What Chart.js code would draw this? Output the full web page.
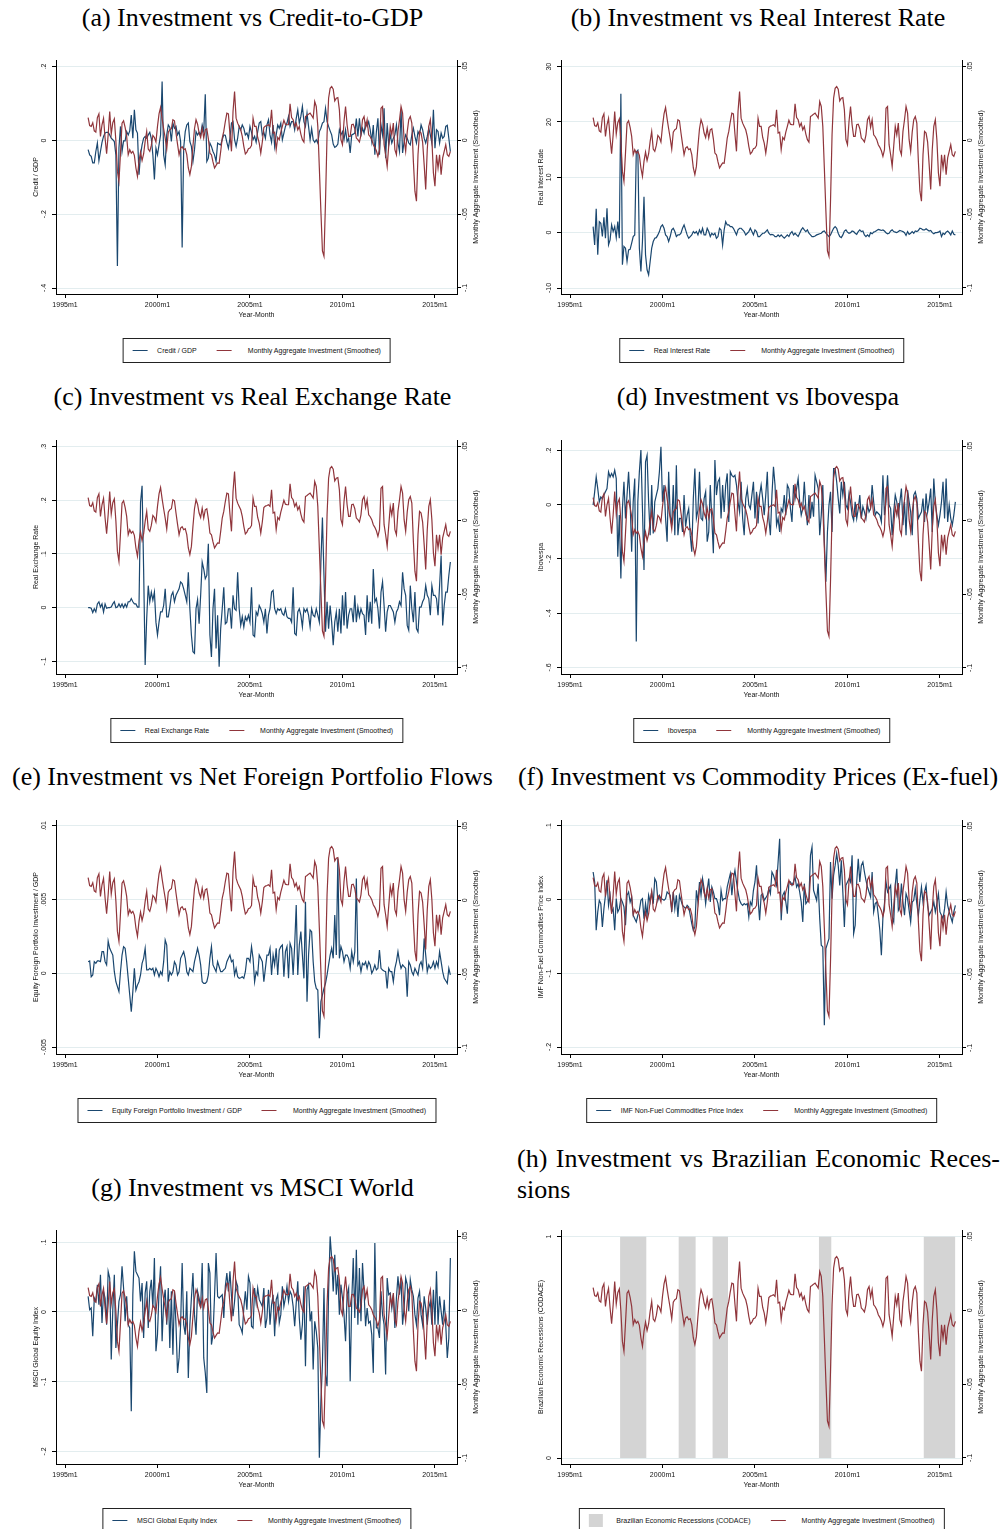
<!DOCTYPE html>
<html>
<head>
<meta charset="utf-8">
<script src="https://cdn.jsdelivr.net/npm/chart.js@4"></script>
<style>
  body { margin: 0; width: 1002px; height: 1529px; position: relative; background: #fff; overflow: hidden; }
  .ttl { position: absolute; font: 26px "Liberation Serif", "Times New Roman", serif; line-height: 28px; color: #000; text-align: center; white-space: nowrap; }
  canvas { position: absolute; }
  .lg { position: absolute; transform: translateX(-50%); border: 1px solid #222; height: 25px; box-sizing: border-box;
        display: flex; align-items: center; padding: 0 9px; font: 7px "Liberation Sans", Arial, sans-serif; color: #111; white-space: nowrap; }
  .key { display: inline-block; width: 15px; border-top: 1px solid; margin-right: 10px; }
  .key.inv { margin-right: 16px; }
  .sw { display: inline-block; width: 14px; height: 13px; background: #d4d4d4; margin-right: 14px; }
  .gap { display: inline-block; width: 20px; }
</style>
</head>
<body>
<script>
// monthly series, 1996m4 .. 2015m11 (months counted from 1995m1 = 0)
const firstMonth = 15;

const investment = [
  .0155, .010, .0095, .012, .0065, .0056, .0155, .018, .0027,
  .0106, .015, .0016, -.009, .0038, .0196, .0043, .012, .0146, -.0002, -.021, -.0277,
  -.0086, .0117, .0133, .0088, .0027, -.0097, -.0063, -.0086, -.0074, -.0101, -.0187, -.0243,
  -.0142, -.0079, -.0137, -.0092, -.0007, .0061, -.0059, -.0074, -.0034, .0034, .002, -.0011,
  .0095, .018, .0223, .0146, .0079, .0016, -.0059, .0056, .0072, .0079, .014, .0133,
  .005, -.0025, -.0097, -.0052, -.0043, -.0063, -.0056, -.0097, -.0187, -.0232, -.0176, -.004,
  .0079, .014, .011, .005, .002, .0083, .0016, .0072, .0079, .0011, -.0086, -.0097,
  -.0146, -.0187, -.0169, -.0153, -.0155, -.0074, .0016, .0061, .0128, .0185, .018, .0043,
  -.0074, .0196, .0331, .0151, .0117, .0095, .0072, .0027, -.004, -.0092, -.0079, -.0056,
  -.0052, -.0034, .0151, .0095, .0095, .002, -.0018, -.0086, -.0011, .0088, .0097, .0101,
  .0106, .0095, .0207, .005, .0056, -.0063, .002, .0005, .0056, .0095, .0137, .011,
  .0106, .0106, .0248, .0155, .014, .0095, .0117, .0072, .0095, .0043, .0005, -.0011,
  .0162, .0169, .0178, .0185, .0169, .0151, .0263, .023, .0095, -.0187, -.0479, -.0749,
  -.0785, -.0412, .0038, .0286, .0353, .0365, .0347, .0268, .0286, .029, .0207, .0005,
  -.0029, .0128, .023, .0106, .0027, .0027, .0106, .011, .0079, .0016, .0005, -.0011,
  .0038, .014, .0162, .0088, .014, .0038, .0025, .0005, -.0029, -.0047, -.007, -.0108,
  -.0063, .0218, .023, -.0029, -.0097, -.0176, -.004, .0095, .0038, .0117, -.0063, -.0097,
  .0061, .014, .023, .0185, .0005, -.0074, .0056, .014, .0162, .0117, -.0142, -.0344,
  -.0412, -.0097, .0061, .005, -.0011, -.0164, -.0333, -.0063, .0095, .014, .0005, -.022,
  -.031, -.0097, -.0187, -.0097, -.0232, -.0119, -.0074, -.0029, -.0097, -.0108, -.0074
];

const creditGdp = [
  -.025, -.039, -.043, -.061, -.061, -.03, -.007, -.055, -.03,
  -.005, .011, .02, .022, .022, .015, .006, .002, -.003, -.039, -.34, -.02,
  .038, -.03, -.001, -.001, .024, .015, .026, .069, .006, .083, .029, .02,
  -.093, -.039, -.012, .006, .011, .006, .015, .022, .005, -.039, -.106, -.021,
  -.039, -.012, .015, .16, -.039, -.066, .015, .042, .035, -.003, .047, .033,
  .038, .015, .024, -.003, -.29, -.02, .024, .042, .047, -.003, -.016, -.057,
  -.025, .024, .015, .022, .015, .042, .024, .125, -.057, -.048, -.007, -.016,
  -.03, -.039, -.057, -.007, -.01, -.012, .002, .015, .014, -.005, -.021, .006,
  .047, .051, .002, -.016, .006, .038, .029, .042, .033, .015, .02, .006,
  .038, .022, .002, .011, -.005, .024, .047, .051, .015, .022, .006, .042,
  .056, .015, -.005, .042, -.016, .015, .042, .033, .047, .002, .02, .038,
  .047, .065, .038, .051, .051, .029, .06, .083, .047, .065, .092, .051,
  .038, .074, .038, .002, .032, .002, -.005, .002, -.007, .024, .033, .047,
  .051, .087, .051, .038, .026, .015, -.01, -.019, -.016, -.01, .029, .015,
  .024, .002, .029, -.003, .006, -.034, .015, .017, .02, .059, .011, .06,
  .015, .033, .02, .047, .038, .051, .029, -.003, .042, -.039, .024, .06,
  -.039, .042, .015, .087, -.048, .047, -.012, .015, -.007, .006, .015, .042,
  -.007, -.03, .083, -.034, -.003, .015, .006, -.007, -.012, .015, .033, .011,
  -.007, .024, .015, .042, .029, .006, -.007, .011, .033, .015, -.007, .083,
  -.021, .029, .024, -.007, .02, .006, .011, .038, .041, .006, -.03
];

const realInterest = [
  1.1, -2.2, 4.3, -4.0, 2.0, 1.7, -0.7, 2.8, -1.0,
  4.4, -2.2, -1.3, 1.4, 0.2, 1.1, -0.9, 2.0, -1.0, 25.1, -5.8, -2.5,
  -2.8, -5.2, -3.1, -3.0, -1.9, -0.7, -0.4, 14.6, 14.9, -2.8, -7.0, -1.6,
  6.5, -4.0, -6.7, -7.6, -5.2, -2.8, -1.6, -1.0, -0.9, -0.4, 0.2, 1.1,
  1.4, 0.8, -0.4, -0.7, -1.6, -0.7, 0.5, 0.8, 0.2, -0.7, -0.4, -0.4,
  -0.1, 0.8, 1.4, 0.5, -0.4, -1.0, -0.7, -0.4, 0.2, -0.1, 0.2, -0.4,
  0.5, -0.1, 0.8, -0.4, -0.4, 0.8, 0.2, -0.7, -0.1, -0.4, -0.1, -1.0,
  -0.7, 0.8, 0.5, -2.2, 0.5, 2.0, 1.4, 1.4, 1.1, 1.1, 0.8, 0.2,
  -0.4, 0.5, 0.8, 0.8, 0.5, 0.2, -0.4, -0.1, 0.2, 0.8, 0.2, -0.4,
  0.5, 0.2, -0.7, -0.7, -0.4, -0.1, -0.1, 0.2, 0.5, -0.1, -0.4, -0.3,
  -0.4, -0.7, -0.7, -0.4, -0.7, -0.4, -0.7, -1.0, -0.7, -0.4, -0.7, -0.1,
  0.2, -0.4, -0.1, -0.4, -0.7, -0.1, 0.5, 0.9, 0.5, 0.2, 0.5, -0.1,
  -0.4, -0.7, -0.7, -0.6, -0.4, -0.3, -0.2, -0.1, 0.2, 0.3, -0.1, -0.4,
  -0.7, -0.4, 0.2, 0.8, 1.1, 0.8, -0.1, -0.7, -0.9, -0.4, 0.3, 0.5,
  0.1, -0.1, 0.0, 0.3, 0.2, -0.1, -0.3, 0.2, 0.5, 0.2, 0.3, -0.4,
  -0.7, -0.4, -0.7, 0.0, -0.2, 0.1, 0.2, 0.4, 0.6, 0.5, 0.4, 0.5,
  0.3, 0.0, -0.2, -0.1, 0.3, 0.5, 0.2, 0.1, 0.0, 0.2, 0.4, 0.3,
  0.2, 0.0, -0.5, 0.2, -0.3, -0.1, 0.2, -0.1, 0.3, 0.2, 0.4, 0.8,
  0.7, 0.5, 0.5, 0.7, 0.5, 0.3, 0.4, 0.0, -0.2, 0.0, 0.0, 0.1,
  0.3, -0.7, -0.1, -0.3, 0.1, 0.3, 0.0, -0.4, 0.3, -0.3, -0.4
];

const realExchange = [
  0, 0, -.001, -.009, -.002, -.008, .007, .011, .001,
  .007, -.008, .007, -.001, 0, 0, .001, .007, .011, 0, .001, .007,
  .001, .007, 0, .007, .001, .011, .011, .017, .011, .007, .007, .001,
  .001, .196, .227, .072, -.107, -.02, .041, .011, .029, .014, .029, -.027,
  -.051, -.027, -.008, -.008, .004, .035, -.017, -.017, .001, .023, .029, .011,
  .023, .029, .035, .048, .045, .035, .023, .011, .066, -.002, -.051, -.082,
  -.085, -.002, .015, -.03, .023, .085, .072, .054, .06, .119, -.051, -.092,
  -.002, .035, -.076, -.014, -.11, -.039, -.002, .038, -.03, -.027, -.002, -.002,
  -.039, .023, -.002, -.005, .066, -.002, -.033, -.017, -.036, -.017, -.024, -.014,
  -.027, .038, -.051, -.054, -.008, -.014, .004, -.002, -.011, -.027, -.002, -.048,
  -.014, -.002, .029, .032, -.002, -.011, -.002, -.005, -.002, -.011, -.014, -.002,
  -.017, -.02, -.02, -.027, .038, -.048, -.051, -.008, -.002, -.014, -.036, -.002,
  -.008, -.002, -.014, -.036, -.002, -.014, -.017, -.002, -.014, -.027, .085, .168,
  .06, -.045, .011, -.039, .004, -.027, -.07, -.027, -.008, -.045, -.002, -.048,
  .023, -.033, .029, -.039, -.014, -.002, -.002, -.027, .023, -.027, .001, -.017,
  -.002, -.011, -.014, -.051, .023, -.027, .011, -.03, .072, .011, .017, -.002,
  -.039, .029, .048, .004, -.045, -.008, .004, .004, -.002, -.008, -.027, -.008,
  -.002, .011, .004, .066, .035, .023, -.033, -.042, .041, -.002, -.027, .029,
  -.039, -.045, .001, .001, .011, .017, .041, .023, .017, -.014, .041, .023,
  .023, .017, -.014, .041, .097, -.033, .004, .029, .029, .060, .085
];

const ibovespa = [
  -.001, .048, .103, .06, .011, .029, .023, .036, .048,
  .06, .122, .103, .116, .103, .128, .097, -.192, -.038, -.272, -.014, .085,
  -.05, .036, .122, .011, -.173, .011, .097, -.505, .011, .122, .202, -.014,
  -.241, .159, .183, .011, -.112, .073, -.106, .011, .036, .06, .122, .214,
  .011, .073, -.05, -.136, .122, -.038, -.075, .073, -.112, .146, -.112, -.05,
  -.05, -.1, .036, -.081, -.038, -.014, -.112, -.173, .023, .134, -.05, -.02,
  .122, -.05, -.057, .023, .048, -.136, -.1, .073, -.05, -.179, .165, .036,
  .085, .097, -.05, .073, -.026, .073, .116, -.063, .122, .109, .103, .109,
  .073, .011, -.026, .085, -.05, -.112, .023, .06, -.001, -.014, .036, .085,
  -.05, .048, -.069, .036, .073, .023, -.038, .036, .122, -.05, -.112, .036,
  .14, .073, -.075, -.05, -.1, -.014, -.026, .036, -.038, .073, .06, -.014,
  -.063, .073, .023, .06, .097, .011, -.038, -.014, .085, -.014, -.075, .036,
  -.05, .011, -.044, .109, .085, .06, -.112, -.038, .073, -.136, -.284, -.1,
  -.001, .048, -.1, .134, .134, .085, .023, -.032, .085, .036, .085, -.001,
  -.014, .042, .011, -.038, -.057, .011, -.05, -.014, .036, -.05, -.007, -.026,
  -.05, -.001, -.026, -.014, .073, .011, -.038, -.026, -.032, -.038, -.063, .109,
  -.038, .011, .109, -.001, -.014, -.112, -.026, .036, .011, -.038, .011, .06,
  -.075, .011, -.112, .054, .011, -.026, -.112, .036, .048, .023, -.05, -.038,
  -.026, .023, -.063, .042, -.026, .011, .06, -.1, .097, .005, -.038, -.075,
  -.038, .011, .085, -.05, .097, -.063, -.001, -.05, -.075, -.038, .011
];

const equityFlows = [
  .00079, .00084, -.00023, -.00011, .00079, .00068, .00084, .00084, .00079,
  .00147, .00147, .00079, .00057, .00219, .0017, .00147, .00124, .00011, -.00057, -.0009, -.00124,
  .00011, .00124, .00181, .0017, .00079, -.00034, -.00147, -.0026, -.00124, .00034, -.00113, -.0008,
  -.00057, -.00011, .00068, .00102, .0017, .00023, .00023, .00034, .00023, .00034, -.00011, .00034,
  .00011, -.00023, .00011, -.00011, .00079, .00226, .00192, -.00057, .00011, -.00011, .00011, .00079,
  .00057, -.00011, .00011, .00102, .00124, .00147, .00102, .00011, -.00011, .00034, .00023, .00011,
  .00079, .00124, .0017, .00124, .00057, -.00057, -.00068, -.00068, -.00057, -.00011, .00102, .00181,
  .00057, .00034, .00011, .00079, .00045, .00011, .00011, .00023, .00034, .00079, .00102, .00124,
  .00079, .0009, -.00011, .00034, -.00023, -.00034, -.0003, -.00023, -.00034, .00011, .00102, .00102,
  .00079, .00181, .00102, -.00057, .00011, -.00011, .00124, .00102, .00079, -.00057, .00034, .00124,
  .00124, .0017, -.00011, .00124, .00057, .0017, -.00011, .00158, .00181, .00192, -.00023, .00147,
  .00181, -.00034, .00203, .0017, -.00011, .00192, .00463, -.00011, .00192, .00283, .00124, -.00034,
  .00486, -.00192, .00124, .00294, .00283, .00079, -.00057, -.00102, -.00113, -.0044, -.00192, -.00147,
  -.00102, -.00068, -.00011, .00057, .00124, .0017, .00102, .00396, .00124, .0078, .00102, .00181,
  .00147, .00079, .00124, .00124, .00102, .00034, .00147, .00079, .00147, .00644, .00057, .00079,
  .00011, .00068, .00057, .00079, .00034, .00079, .00057, 0, .00023, .00057, .00023, .00034,
  .00158, .00034, .00023, .00016, .00011, -.00102, .00034, .00011, .00011, -.00057, .00034, .00079,
  .00147, .00079, .00034, .00057, .00045, .00034, -.00158, .00079, .00057, .00011, -.00011, .00034,
  .00011, -.00011, .00057, .00079, .00034, .00237, .00124, .00011, .00057, .00034, .00045, .00079,
  .00034, .00079, .00045, .00147, .00079, .00011, -.00034, -.0005, -.00068, .00034, -.00011
];

const commodities = [
  .0375, .024, -.0416, -.0167, -.0009, -.0054, -.0371, -.0122, .0059,
  .0262, -.0077, .0059, -.0167, -.0122, -.0416, .0014, -.0167, -.0122, .0014, -.0032, -.0099,
  -.0348, .0059, .0104, -.0032, .0036, -.0212, -.0258, -.0303, -.0212, -.0145, -.0009, .0014,
  -.0258, -.0054, -.0212, .0059, -.0032, .0104, -.0054, .0285, .024, -.0009, .0059, .0014,
  .0005, -.0009, .0014, .0104, .0081, .0059, -.0167, .0104, -.0122, .0059, -.0235, .0059,
  -.0009, -.0077, -.0099, -.0122, -.0077, -.0099, -.0212, -.0325, -.0416, -.0371, .0127, -.0032,
  .024, .0059, .0285, .0149, -.0054, .0127, .0285, -.0032, .0172, .0104, .0014, .0014,
  -.0054, -.0212, .0127, -.0009, .0014, .0014, .0172, .0262, .0352, .0059, .0285, .0398,
  .024, .0104, -.0009, -.0054, -.0077, -.0054, -.0068, -.0054, -.0235, -.0032, -.0077, .0127,
  .024, .0465, .0014, -.028, .0059, .0081, -.0009, .0023, .0059, .0149, .0081, .0375,
  .033, .0262, .0194, .0511, .0827, -.028, .0059, .0104, -.0032, -.019, .024, .024,
  .0194, .024, .0307, .0172, .0217, .0104, -.0032, -.0303, .0217, -.0054, -.0023, .0014,
  .0601, .0714, .0127, .0059, -.0009, .0217, -.0258, -.0619, -.0642, -.1704, -.0664, -.0597,
  -.0529, .0511, .0014, .033, .0465, .0624, .0465, .0194, .0533, .0104, -.0371, .0194,
  .024, .0285, .024, .0601, -.0461, -.0348, .024, .0556, .024, .0465, .0511, .0375,
  .0262, .0172, .0104, .0036, .0375, -.0167, -.0054, -.0032, -.0212, -.0416, -.0755, -.0235,
  -.0054, .024, .0104, .0149, .0194, -.0235, -.0303, .0194, .042, -.0145, -.0099, .0217,
  -.0032, -.0212, .0081, .0014, -.0145, -.0303, -.0032, -.0009, .0149, -.0054, -.0212, -.0009,
  .0172, -.0032, .0104, .0194, -.0077, -.0212, -.0167, -.0122, -.0032, -.0167, -.0054, .0081,
  -.0167, -.0212, -.0258, -.0122, .0104, -.0077, -.0167, -.0235, -.0303, -.0167, -.0077
];

const msciWorld = [
  .0225, .0033, .0057, -.0349, .0201, .0153, .0392, .0105, .0535,
  -.0158, .0296, .0201, -.0182, .0583, .0487, -.0683, .0033, .0535, -.0516, -.0182, .0153,
  .0248, .0655, .0344, -.0134, .0225, -.0182, -.0229, -.1424, .0248, .087, .0583, .0535,
  .0487, .0153, .0416, -.0373, .0272, .044, -.0229, .0296, .0463, .0057, .0774, -.0564,
  -.0325, .0296, .0655, -.042, .0153, .032, -.0182, .0344, -.0516, .0296, -.0612, .0296,
  -.0182, -.0874, -.0659, -.0182, .0702, -.0182, -.0325, .0296, -.0946, -.0182, .0201, .0559,
  -.0038, -.0325, .0296, .0201, .0057, .0702, -.0659, -.0874, -.1161, .0702, .0559, -.0468,
  -.0325, .0225, .0846, .0225, .0201, .0225, .0248, -.0086, .0368, .0559, .0296, .0583,
  .0225, -.0062, .0153, .044, .0368, -.0182, -.0229, -.0301, .0057, .0296, .0033, .0511,
  .0416, -.0205, -.0229, .0344, .0129, .0344, .0177, .0129, .0081, .0344, -.0229, -.0086,
  .032, -.0182, .0105, .0248, -.0349, .0177, .0248, -.0158, -.0038, .0368, .0081, .0201,
  .0368, .0153, .0296, .0248, .0081, -.0205, .0129, .044, -.0086, -.0397, -.0182, .0368,
  -.0779, .032, .0392, -.0134, .001, -.0827, -.0134, -.0277, -.0516, -.2093, -.128, -.0755,
  .0344, -.0898, -.1065, .0296, .1085, .0774, .0296, .0822, .0248, .0535, -.0038, .0392,
  .0201, -.0038, -.042, .0248, .0344, -.0994, .0153, .0774, -.0086, .0893, -.0182, .0631,
  -.0134, .0702, .0296, -.0205, .0057, -.0158, -.0134, -.0325, -.0874, .0989, -.0229, -.0229,
  -.0373, .0296, -.0038, -.0182, -.0898, .0487, .0248, .0272, .0057, .0248, -.0229, .0201,
  .0511, .0248, .0487, -.0182, .0057, .0487, .0392, .001, .0463, .032, .0225, -.0038,
  -.0182, .0201, .0296, -.0038, -.0182, .0225, .0057, -.0182, .0057, .0153, -.0182, .032,
  -.0182, .0583, -.0182, .0225, .001, -.0182, .0177, -.0182, -.0659, -.0373, .0774
];

// CODACE recession indicator (1 = recession month)
const recession = [
  0, 0, 0, 0, 0, 0, 0, 0, 0,
  0, 0, 0, 0, 0, 0, 0, 0, 0, 1, 1, 1,
  1, 1, 1, 1, 1, 1, 1, 1, 1, 1, 1, 1,
  1, 1, 0, 0, 0, 0, 0, 0, 0, 0, 0, 0,
  0, 0, 0, 0, 0, 0, 0, 0, 0, 0, 0, 1,
  1, 1, 1, 1, 1, 1, 1, 1, 1, 1, 0, 0,
  0, 0, 0, 0, 0, 0, 0, 0, 0, 1, 1, 1,
  1, 1, 1, 1, 1, 1, 1, 0, 0, 0, 0, 0,
  0, 0, 0, 0, 0, 0, 0, 0, 0, 0, 0, 0,
  0, 0, 0, 0, 0, 0, 0, 0, 0, 0, 0, 0,
  0, 0, 0, 0, 0, 0, 0, 0, 0, 0, 0, 0,
  0, 0, 0, 0, 0, 0, 0, 0, 0, 0, 0, 0,
  0, 0, 0, 0, 0, 0, 1, 1, 1, 1, 1, 1,
  1, 1, 0, 0, 0, 0, 0, 0, 0, 0, 0, 0,
  0, 0, 0, 0, 0, 0, 0, 0, 0, 0, 0, 0,
  0, 0, 0, 0, 0, 0, 0, 0, 0, 0, 0, 0,
  0, 0, 0, 0, 0, 0, 0, 0, 0, 0, 0, 0,
  0, 0, 0, 0, 0, 0, 0, 0, 0, 0, 0, 0,
  0, 0, 1, 1, 1, 1, 1, 1, 1, 1, 1, 1,
  1, 1, 1, 1, 1, 1, 1, 1, 1, 1, 1
];

const xTicks = [0, 60, 120, 180, 240];
const xTickLabels = ['1995m1', '2000m1', '2005m1', '2010m1', '2015m1'];
const invTicks = [.05, 0, -.05, -.1];
const invTickLabels = ['.05', '0', '-.05', '-.1'];
const creditTicks = [.2, 0, -.2, -.4];
const creditTickLabels = ['.2', '0', '-.2', '-.4'];
const rateTicks = [30, 20, 10, 0, -10];
const rateTickLabels = ['30', '20', '10', '0', '-10'];
const rerTicks = [.3, .2, .1, 0, -.1];
const rerTickLabels = ['.3', '.2', '.1', '0', '-.1'];
const iboTicks = [.2, 0, -.2, -.4, -.6];
const iboTickLabels = ['.2', '0', '-.2', '-.4', '-.6'];
const flowTicks = [.01, .005, 0, -.005];
const flowTickLabels = ['.01', '.005', '0', '-.005'];
const commTicks = [.1, 0, -.1, -.2];
const commTickLabels = ['.1', '0', '-.1', '-.2'];
const msciTicks = [.1, 0, -.1, -.2];
const msciTickLabels = ['.1', '0', '-.1', '-.2'];
const recTicks = [1, 0];
const recTickLabels = ['1', '0'];

const invName = 'Monthly Aggregate Investment (Smoothed)';
const blue = '#1a476f';
const red = '#90353b';
const shade = '#d4d4d4';

const panels = [
  { title: '(a) Investment vs Credit-to-GDP', name: 'Credit / GDP', series: creditGdp,
    ticks: creditTicks, labels: creditTickLabels, min: -.4162, max: .218, col: 0, row: 0 },
  { title: '(b) Investment vs Real Interest Rate', name: 'Real Interest Rate', series: realInterest,
    ticks: rateTicks, labels: rateTickLabels, min: -11.08, max: 31.2, col: 1, row: 0 },
  { title: '(c) Investment vs Real Exchange Rate', name: 'Real Exchange Rate', series: realExchange,
    ticks: rerTicks, labels: rerTickLabels, min: -.1236, max: .3124, col: 0, row: 1 },
  { title: '(d) Investment vs Ibovespa', name: 'Ibovespa', series: ibovespa,
    ticks: iboTicks, labels: iboTickLabels, min: -.6246, max: .2393, col: 1, row: 1 },
  { title: '(e) Investment vs Net Foreign Portfolio Flows', name: 'Equity Foreign Portfolio Investment / GDP', series: equityFlows,
    ticks: flowTicks, labels: flowTickLabels, min: -.005475, max: .010407, col: 0, row: 2 },
  { title: '(f) Investment vs Commodity Prices (Ex-fuel)', name: 'IMF Non-Fuel Commodities Price Index', series: commodities,
    ticks: commTicks, labels: commTickLabels, min: -.2095, max: .1081, col: 1, row: 2 },
  { title: '(g) Investment vs MSCI World', name: 'MSCI Global Equity Index', series: msciWorld,
    ticks: msciTicks, labels: msciTickLabels, min: -.2182, max: .1177, col: 0, row: 3 },
  { title: ['(h) Investment vs Brazilian Economic Reces-', 'sions'], name: 'Brazilian Economic Recessions (CODACE)', series: recession,
    ticks: recTicks, labels: recTickLabels, min: -.0271, max: 1.0301, col: 1, row: 3, shaded: true }
];

// page layout
const cols = [
  { x: 0, w: 500, yl: 56, yr: 43, center: 256.5, tx: 0, tw: 505 },
  { x: 501, w: 501, yl: 60, yr: 40, center: 761.5, tx: 507, tw: 502 }
];
const rows = [
  { top: 60, title: 4 },
  { top: 440, title: 383 },
  { top: 820, title: 763 },
  { top: 1230, title: 1174 }
];

Chart.defaults.font.family = '"Liberation Sans", Arial, sans-serif';
Chart.defaults.font.size = 7;
Chart.defaults.color = '#111';

// Stata style: vertical tick labels and bottom-to-top titles on both y axes
const stataAxes = {
  id: 'stataAxes',
  afterDraw(chart, args, o) {
    const { ctx, chartArea: a, scales } = chart;
    const put = (txt, x, y) => {
      ctx.save(); ctx.translate(x, y); ctx.rotate(-Math.PI / 2); ctx.fillText(txt, 0, 0); ctx.restore();
    };
    ctx.save();
    ctx.fillStyle = '#111';
    ctx.font = '7px "Liberation Sans", Arial, sans-serif';
    ctx.textAlign = 'center';
    ctx.textBaseline = 'middle';
    scales.y.ticks.forEach((t, i) => put(o.leftLabels[i], a.left - 11.5, scales.y.getPixelForValue(t.value)));
    scales.y1.ticks.forEach((t, i) => put(o.rightLabels[i], a.right + 8.5, scales.y1.getPixelForValue(t.value)));
    const mid = (a.top + a.bottom) / 2;
    put(o.leftTitle, a.left - 20, mid);
    put(o.rightTitle, a.right + 19.5, mid);
    ctx.restore();
  }
};

const toPoints = arr => arr.map((v, i) => ({ x: firstMonth + i, y: v }));

panels.forEach(p => {
  const col = cols[p.col], row = rows[p.row];

  // title
  if (Array.isArray(p.title)) {
    const t1 = document.createElement('div');
    t1.className = 'ttl';
    t1.style.cssText = 'left:517px;top:1143px;width:483px;text-align:justify;text-align-last:justify;line-height:31px';
    t1.textContent = p.title[0];
    const t2 = document.createElement('div');
    t2.className = 'ttl';
    t2.style.cssText = 'left:517px;top:1174px;text-align:left;line-height:31px';
    t2.textContent = p.title[1];
    document.body.append(t1, t2);
  } else {
    const t = document.createElement('div');
    t.className = 'ttl';
    t.style.left = col.tx + 'px'; t.style.top = row.title + 'px'; t.style.width = col.tw + 'px';
    t.textContent = p.title;
    document.body.appendChild(t);
  }

  // chart
  const cv = document.createElement('canvas');
  cv.width = col.w; cv.height = 290;
  cv.style.left = col.x + 'px'; cv.style.top = (row.top - 20) + 'px';
  document.body.appendChild(cv);

  const datasets = [
    { data: toPoints(investment), yAxisID: 'y1', borderColor: red, borderWidth: 1.2, order: 0 }
  ];
  if (p.shaded) {
    datasets.push({ data: toPoints(p.series), yAxisID: 'y', stepped: 'middle', fill: 'origin',
      backgroundColor: shade, borderWidth: 0, borderColor: 'rgba(0,0,0,0)', order: 2 });
  } else {
    datasets.push({ data: toPoints(p.series), yAxisID: 'y', borderColor: blue, borderWidth: 1.2, order: 1 });
  }

  new Chart(cv, {
    type: 'line',
    data: { datasets },
    options: {
      responsive: false,
      animation: false,
      devicePixelRatio: 1,
      layout: { padding: { top: 20, left: 0, right: 0, bottom: 0 } },
      elements: { point: { radius: 0 }, line: { tension: 0 } },
      plugins: {
        legend: { display: false },
        tooltip: { enabled: false },
        stataAxes: { leftLabels: p.labels, rightLabels: invTickLabels, leftTitle: p.name, rightTitle: invName }
      },
      scales: {
        x: {
          type: 'linear', min: -5.84, max: 254.3, bounds: 'data',
          afterBuildTicks: s => { s.ticks = xTicks.map(v => ({ value: v })); },
          afterFit: s => { s.height = 36; },
          ticks: { autoSkip: false, maxRotation: 0, padding: 3, color: '#111',
                   callback: (v, i) => xTickLabels[i] },
          grid: { drawOnChartArea: false, tickLength: 4, tickColor: '#000' },
          border: { color: '#000', width: 1 },
          title: { display: true, text: 'Year-Month', color: '#111', padding: { top: 0, bottom: 11 } }
        },
        y: {
          type: 'linear', position: 'left', min: p.min, max: p.max, bounds: 'data',
          afterBuildTicks: s => { s.ticks = p.ticks.map(v => ({ value: v })); },
          afterFit: s => { s.width = col.yl; },
          ticks: { display: false },
          grid: { color: '#e3edef', lineWidth: 1, tickLength: 4, tickColor: '#000' },
          border: { color: '#000', width: 1 }
        },
        y1: {
          type: 'linear', position: 'right', min: -.1041, max: .0545, bounds: 'data',
          afterBuildTicks: s => { s.ticks = invTicks.map(v => ({ value: v })); },
          afterFit: s => { s.width = col.yr; },
          ticks: { display: false },
          grid: { drawOnChartArea: false, tickLength: 4, tickColor: '#000' },
          border: { color: '#000', width: 1 }
        }
      }
    },
    plugins: [stataAxes]
  });

  // legend box under the plot
  const lg = document.createElement('div');
  lg.className = 'lg';
  lg.style.left = col.center + 'px';
  lg.style.top = (row.top + 278) + 'px';
  const firstKey = p.shaded ? '<span class="sw"></span>' : `<span class="key" style="border-color:${blue}"></span>`;
  lg.innerHTML = `${firstKey}<span>${p.name}</span><span class="gap"></span>` +
                 `<span class="key inv" style="border-color:${red}"></span><span>${invName}</span>`;
  document.body.appendChild(lg);
});
</script>
</body>
</html>
